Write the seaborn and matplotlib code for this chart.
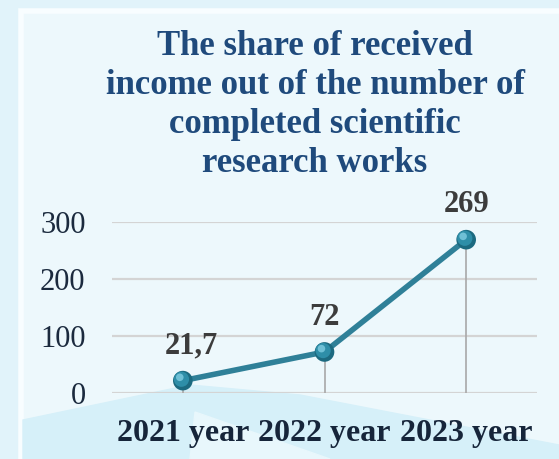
import matplotlib
matplotlib.use("Agg")
import matplotlib.pyplot as plt
import matplotlib.transforms as mtrans
import seaborn as sns
import pandas as pd
from matplotlib.patches import Rectangle, Polygon

years = ["2021 year", "2022 year", "2023 year"]
values = [21.7, 72, 269]
value_labels = ["21,7", "72", "269"]
yticks = [0, 100, 200, 300]
title = "The share of received\nincome out of the number of\ncompleted scientific\nresearch works"

df = pd.DataFrame({"year": years, "value": values})

sns.set_theme(style="white")
plt.rcParams["font.family"] = ["Liberation Serif", "DejaVu Serif"]

W, H = 559, 459
fig = plt.figure(figsize=(W / 100, H / 100), dpi=100)
fig.patch.set_facecolor("#e3f4fa")

# background panel and frame
fig.patches.append(Rectangle((0, 0), 1, 1, transform=fig.transFigure, color="#e1f3fa", zorder=-10))
fig.patches.append(Rectangle((21 / W, -0.05), 1.1, 1.05 - 11 / H, transform=fig.transFigure,
                             facecolor="#edf8fc", edgecolor="#f8fdff", lw=4, zorder=-9))
fig.patches.append(Polygon([(23 / W, 0), (23 / W, 1 - 420 / H), (190 / W, 1 - 385 / H), (300 / W, 1 - 395 / H),
                            (1, 1 - 445 / H), (1, 0)],
                           closed=True, transform=fig.transFigure, color="#d6f0f9", zorder=-8))
fig.patches.append(Polygon([(190 / W, 0), (195 / W, 1 - 412 / H), (330 / W, 0)],
                           closed=True, transform=fig.transFigure, color="#e8f7fc", zorder=-7))

ax = fig.add_axes([112 / W, 1 - 393 / H, (537 - 112) / W, (393 - 222) / H])
ax.set_facecolor("none")

sns.lineplot(data=df, x="year", y="value", ax=ax, color="#2f8098", lw=4.0,
             sort=False, zorder=3)

xs = list(range(len(years)))
# drop lines
ax.vlines(xs, 0, values, color="#a8a8a8", lw=1.2, zorder=2)
# sphere markers
ax.scatter(xs, values, s=200, color="#1c6a80", zorder=4, clip_on=False, edgecolors="none")
off1 = mtrans.offset_copy(ax.transData, fig=fig, x=-1.0, y=1.0, units="points")
ax.scatter(xs, values, s=120, color="#2e8ea8", zorder=5, clip_on=False, edgecolors="none", transform=off1)
off2 = mtrans.offset_copy(ax.transData, fig=fig, x=-2.2, y=2.4, units="points")
ax.scatter(xs, values, s=30, color="#6fc0d6", zorder=6, clip_on=False, edgecolors="none", transform=off2)

label_dx = [6, 0, 0]
for x, v, lab, dx in zip(xs, values, value_labels, label_dx):
    ax.annotate(lab, (x, v), xytext=(dx, 25), textcoords="offset points",
                ha="center", va="center", fontsize=22, fontweight="bold",
                color="#3c3c3c", zorder=7)

ax.set_xlim(-0.5, 2.5)
ax.set_ylim(0, 300)
ax.set_yticks(yticks)
ax.set_yticklabels([str(t) for t in yticks], fontsize=22, color="#1b2a3e")
ax.set_xticks(xs)
ax.set_xticklabels(years, fontsize=23, fontweight="bold", color="#16253a")
ax.tick_params(axis="y", pad=19, length=0)
ax.tick_params(axis="x", pad=19, length=0)
ax.set_xlabel("")
ax.set_ylabel("")
ax.grid(axis="y", color="#d4d4d4", lw=1.6)
ax.grid(axis="x", visible=False)
for s in ax.spines.values():
    s.set_visible(False)

fig.text(315 / W, 1 - 105 / H, title, ha="center", va="center", fontsize=25,
         fontweight="bold", color="#1f4a7c", linespacing=1.24)

fig.savefig("out.png", dpi=100, facecolor=fig.get_facecolor())
